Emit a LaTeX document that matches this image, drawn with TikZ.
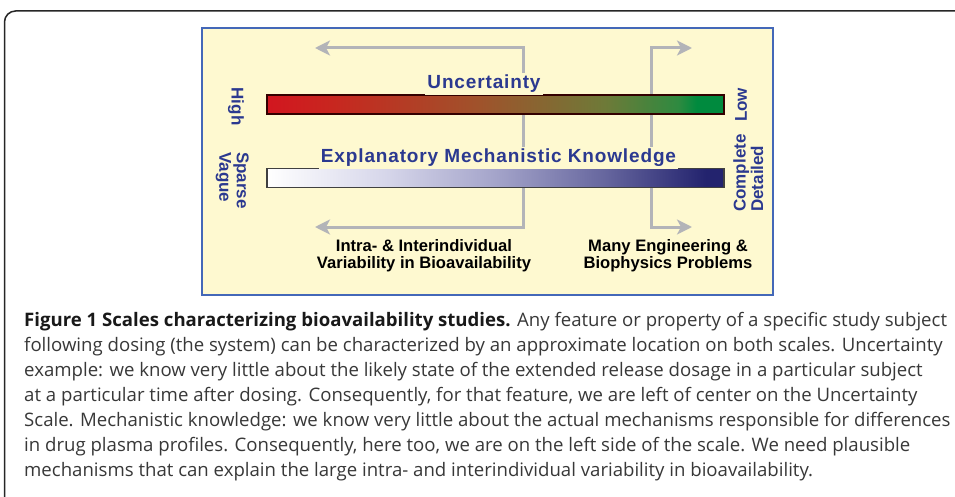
\documentclass[tikz,border=0pt]{standalone}
\usepackage{fontspec}
\setmainfont{Open Sans}
\newfontfamily\lblfont[LetterSpace=4.5]{Liberation Sans}
\newfontfamily\arialfont{Liberation Sans}
\usetikzlibrary{arrows.meta}
\definecolor{boxyellow}{HTML}{FEF9D0}
\definecolor{boxblue}{HTML}{4468B8}
\definecolor{arrowgray}{HTML}{B3B4B8}
\definecolor{labelblue}{HTML}{2B3990}
\definecolor{captext}{HTML}{383838}
\definecolor{uncred}{HTML}{D2161F}
\definecolor{uncredb}{HTML}{C8261F}
\definecolor{uncbrown}{HTML}{A0522B}
\definecolor{uncolive}{HTML}{6E7A38}
\definecolor{uncgreenb}{HTML}{2E8A40}
\definecolor{uncgreen}{HTML}{008A3E}
\definecolor{knowa}{HTML}{FFFFFF}
\definecolor{knowb}{HTML}{D6D6EA}
\definecolor{knowc}{HTML}{A4A4CA}
\definecolor{knowd}{HTML}{66669E}
\definecolor{knowe}{HTML}{23236E}
\pgfdeclarehorizontalshading{uncshade}{100bp}{color(0bp)=(uncred); color(25bp)=(uncred); color(32bp)=(uncredb); color(48bp)=(uncbrown); color(62bp)=(uncolive); color(70bp)=(uncgreenb); color(72bp)=(uncgreen); color(100bp)=(uncgreen)}
\pgfdeclarehorizontalshading{knowshade}{100bp}{color(0bp)=(knowa); color(25bp)=(knowa); color(38bp)=(knowb); color(50bp)=(knowc); color(62bp)=(knowd); color(73bp)=(knowe); color(100bp)=(knowe)}
\tikzset{
  grayarrow/.style={draw=arrowgray, line width=3pt, line join=miter,
    {Stealth[length=15pt,width=15pt,inset=4pt]}-{Stealth[length=15pt,width=15pt,inset=4pt]}},
  scalebar/.style={rectangle, minimum width=457pt, minimum height=19pt, inner sep=0pt, line width=1.2pt},
  scalelabel/.style={fill=boxyellow, inner sep=2pt, text=labelblue, font=\lblfont\bfseries\fontsize{19}{22}\selectfont},
  sidelabel/.style={inner sep=0pt, text=labelblue, font=\arialfont\bfseries\fontsize{17}{17.5}\selectfont, align=left},
  examplelabel/.style={inner sep=0pt, text=black, font=\arialfont\bfseries\fontsize{16.6}{17}\selectfont, align=center},
  capline/.style={inner sep=0pt, anchor=base west, text=captext, font=\fontsize{18.6}{22}\selectfont}
}
\begin{document}
\begin{tikzpicture}[x=1pt,y=-1pt]
\useasboundingbox (0,0) rectangle (955,497);
\fill[white] (0,0) rectangle (955,497);
% outer frame
\coordinate (frameA) at (955,11);
\coordinate (frameB) at (4.5,11);
\coordinate (frameC) at (4.5,497);
\draw[line width=1.5pt, draw=black!85, rounded corners=11pt] (frameA) -- (frameB) -- (frameC);
% figure box
\node[draw=boxblue, fill=boxyellow, line width=1.5pt, minimum width=571pt, minimum height=267pt, inner sep=0pt] (box) at (487.5,161.5) {};
% arrows
\coordinate (tlTip) at (315,48);
\coordinate (tlCorner) at (523,48);
\coordinate (blCorner) at (523,227);
\coordinate (blTip) at (315,227);
\coordinate (trTip) at (692,48);
\coordinate (trCorner) at (651,48);
\coordinate (brCorner) at (651,227);
\coordinate (brTip) at (692,227);
\draw[grayarrow] (tlTip) -- (tlCorner) -- (blCorner) -- (blTip);
\draw[grayarrow] (trTip) -- (trCorner) -- (brCorner) -- (brTip);
% bars
\node[scalebar, draw=black!80!red, shading=uncshade] (ubar) at (495.5,104.5) {};
\node[scalebar, draw=black!75, shading=knowshade] (kbar) at (495.5,178) {};
% scale labels
\node[scalelabel, anchor=base] (ulabel) at (484,89) {Uncertainty};
\node[scalelabel, anchor=base] (klabel) at (498.5,163) {Explanatory Mechanistic Knowledge};
% side labels
\node[sidelabel, rotate=-90] (high) at (236,106.5) {High};
\node[sidelabel, rotate=-90, anchor=north west] (sparse) at (249,152) {Sparse\\Vague};
\node[sidelabel, rotate=90] (low) at (741,105) {Low};
\node[sidelabel, rotate=90, anchor=north west] (complete) at (733,212) {Complete\\Detailed};
% example labels
\node[examplelabel, anchor=base] (intra) at (424,268) {Intra- \& Interindividual\\Variability in Bioavailability};
\node[examplelabel, anchor=base] (many) at (668,268) {Many Engineering \&\\Biophysics Problems};
% caption
\node[capline] (c1) at (24,326) {\textbf{\color{black!90}Figure 1 Scales characterizing bioavailability studies.} Any feature or property of a specific study subject};
\node[capline] (c2) at (24,351) {following dosing (the system) can be characterized by an approximate location on both scales. Uncertainty};
\node[capline] (c3) at (24,376) {example: we know very little about the likely state of the extended release dosage in a particular subject};
\node[capline] (c4) at (24,401) {at a particular time after dosing. Consequently, for that feature, we are left of center on the Uncertainty};
\node[capline] (c5) at (24,426) {Scale. Mechanistic knowledge: we know very little about the actual mechanisms responsible for differences};
\node[capline] (c6) at (24,451) {in drug plasma profiles. Consequently, here too, we are on the left side of the scale. We need plausible};
\node[capline] (c7) at (24,476) {mechanisms that can explain the large intra- and interindividual variability in bioavailability.};
\end{tikzpicture}
\end{document}
